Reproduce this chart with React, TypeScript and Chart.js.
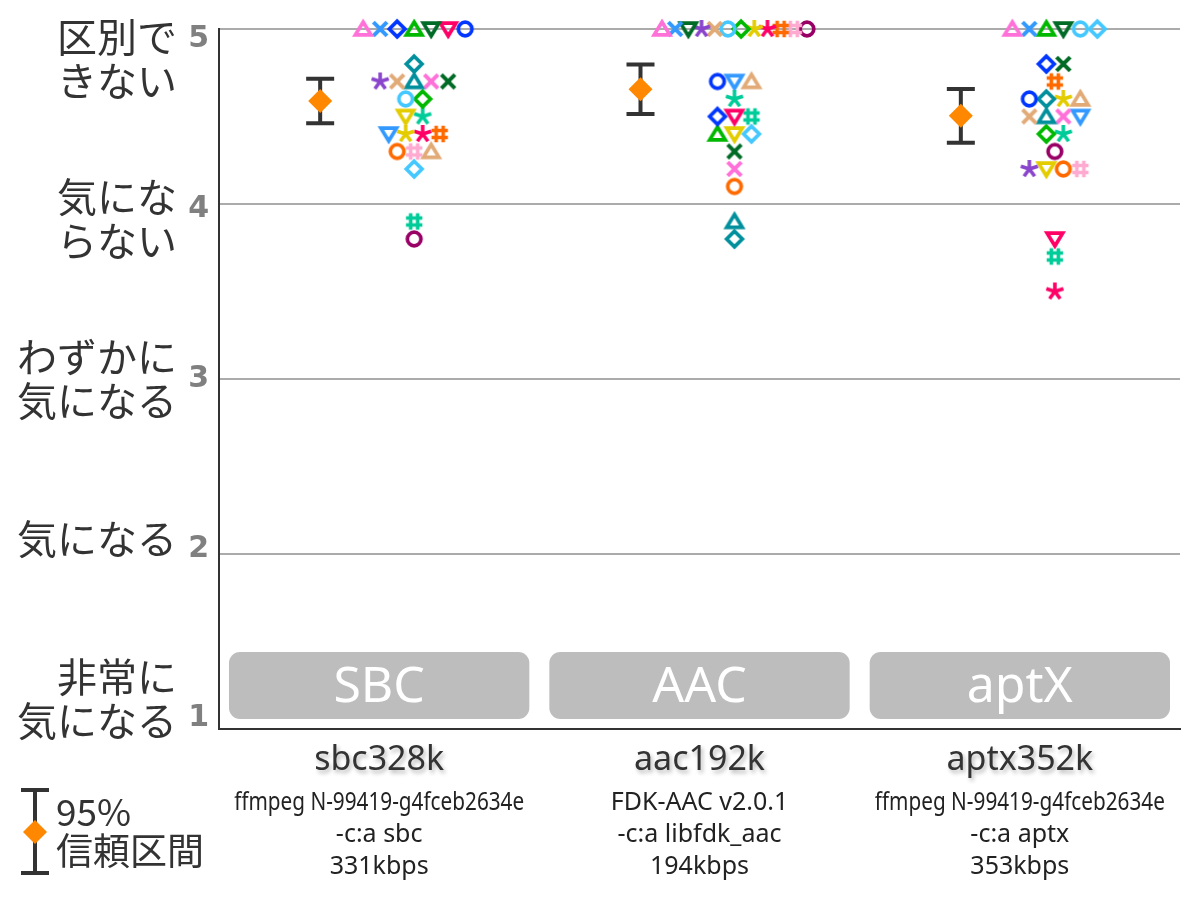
import React, { useEffect, useRef } from "react";
import { Chart, registerables } from "chart.js";

Chart.register(...registerables);

// ---------------- data ----------------
const codecNames = ["sbc328k", "aac192k", "aptx352k"];
const codecBadges = ["SBC", "AAC", "aptX"];
const codecNotes = [
  ["ffmpeg N-99419-g4fceb2634e", "-c:a sbc", "331kbps"],
  ["FDK-AAC v2.0.1", "-c:a libfdk_aac", "194kbps"],
  ["ffmpeg N-99419-g4fceb2634e", "-c:a aptx", "353kbps"],
];
const scoreTicks = [1, 2, 3, 4, 5];
const scoreTickLabels = [
  ["非常に", "気になる"],
  ["気になる"],
  ["わずかに", "気になる"],
  ["気にな", "らない"],
  ["区別で", "きない"],
];
const legendLabel = ["95%", "信頼区間"];

// one score per listener (27 listeners), same listener order in every array
const sbcScores = [5, 5, 5, 5, 5, 5, 5, 4.8, 4.7, 4.7, 4.7, 4.7, 4.7, 4.6, 4.6, 4.5, 4.5, 4.4, 4.4, 4.4, 4.4, 4.3, 4.3, 4.3, 4.2, 3.9, 3.8];
const aacScores = [5, 5, 4.5, 4.4, 5, 4.5, 4.7, 3.8, 5, 5, 3.9, 4.2, 4.3, 5, 5, 4.4, 4.6, 4.7, 5, 5, 5, 4.1, 5, 4.7, 4.4, 4.5, 5];
const aptxScores = [5, 5, 4.8, 5, 5, 3.8, 4.6, 4.6, 4.2, 4.5, 4.5, 4.5, 4.8, 5, 4.4, 4.2, 4.4, 4.5, 4.6, 3.5, 4.7, 4.2, 4.2, 4.6, 5, 3.7, 4.3];
const codecScores = [sbcScores, aacScores, aptxScores];

// ---------------- styles ----------------
const C = {
  pink: "#ff70d8",
  dodger: "#3399ff",
  blue: "#0036ff",
  green: "#00b800",
  dkgreen: "#006b26",
  crimson: "#ff0066",
  lightblue: "#45c8ff",
  teal: "#008f9c",
  tan: "#e2aa76",
  purple: "#8a45cc",
  yellow: "#e3cc00",
  tealgreen: "#00cc99",
  orange: "#ff6a00",
  lightpink: "#ffaad0",
  maroon: "#990066",
};
const listenerMarks: [string, string][] = [
  ["tri", C.pink],
  ["x", C.dodger],
  ["diamond", C.blue],
  ["tri", C.green],
  ["tridown", C.dkgreen],
  ["tridown", C.crimson],
  ["circle", C.blue],
  ["diamond", C.teal],
  ["star", C.purple],
  ["x", C.tan],
  ["tri", C.teal],
  ["x", C.pink],
  ["x", C.dkgreen],
  ["circle", C.lightblue],
  ["diamond", C.green],
  ["tridown", C.yellow],
  ["star", C.tealgreen],
  ["tridown", C.dodger],
  ["star", C.yellow],
  ["star", C.crimson],
  ["hash", C.orange],
  ["circle", C.orange],
  ["hash", C.lightpink],
  ["tri", C.tan],
  ["diamond", C.lightblue],
  ["hash", C.tealgreen],
  ["circle", C.maroon],
];

const PX_PER_UNIT = 961 / 3;
const SWARM_SHIFT = 35; // px right of category centre
const CI_SHIFT = -59; // px left of category centre
const TEXT = "#333333";
const ORANGE = "#ff8800";

function makeMarker(shape: string, color: string): HTMLCanvasElement {
  const c = document.createElement("canvas");
  c.width = 28;
  c.height = 28;
  const g = c.getContext("2d")!;
  g.translate(14, 14);
  g.strokeStyle = color;
  g.lineWidth = 3.7;
  g.lineJoin = "miter";
  g.beginPath();
  if (shape === "circle") {
    g.arc(0, 0, 6.8, 0, Math.PI * 2);
  } else if (shape === "tri") {
    g.moveTo(0, -7);
    g.lineTo(7.8, 5.8);
    g.lineTo(-7.8, 5.8);
    g.closePath();
  } else if (shape === "tridown") {
    g.moveTo(0, 7);
    g.lineTo(7.8, -5.8);
    g.lineTo(-7.8, -5.8);
    g.closePath();
  } else if (shape === "diamond") {
    g.moveTo(0, -7.8);
    g.lineTo(7.8, 0);
    g.lineTo(0, 7.8);
    g.lineTo(-7.8, 0);
    g.closePath();
  } else if (shape === "x") {
    g.lineWidth = 4;
    g.moveTo(-6.8, -6.8);
    g.lineTo(6.8, 6.8);
    g.moveTo(-6.8, 6.8);
    g.lineTo(6.8, -6.8);
  } else if (shape === "star") {
    g.lineWidth = 3.6;
    for (let k = 0; k < 5; k++) {
      const a = -Math.PI / 2 + (k * 2 * Math.PI) / 5;
      g.moveTo(0, 0);
      g.lineTo(Math.cos(a) * 9, Math.sin(a) * 9);
    }
  } else if (shape === "hash") {
    g.lineWidth = 3.6;
    g.moveTo(-3.5, -8.2);
    g.lineTo(-3.5, 8.2);
    g.moveTo(3.5, -8.2);
    g.lineTo(3.5, 8.2);
    g.moveTo(-8.2, -3.5);
    g.lineTo(8.2, -3.5);
    g.moveTo(-8.2, 3.5);
    g.lineTo(8.2, 3.5);
  }
  g.stroke();
  return c;
}

// beeswarm-style layout: points sharing a value are spread along a row
function swarmOffsets(scores: number[]): number[] {
  const groups = new Map<number, number[]>();
  scores.forEach((s, i) => {
    const k = Math.round(s * 10);
    if (!groups.has(k)) groups.set(k, []);
    groups.get(k)!.push(i);
  });
  const out = new Array(scores.length).fill(0);
  groups.forEach((idx) => {
    const n = idx.length;
    const step = n > 1 ? Math.min(17, 145 / (n - 1)) : 0;
    idx.forEach((li, j) => {
      out[li] = (SWARM_SHIFT + (j - (n - 1) / 2) * step) / PX_PER_UNIT;
    });
  });
  return out;
}

function meanCI(v: number[]): [number, number] {
  const n = v.length;
  const m = v.reduce((a, b) => a + b, 0) / n;
  const sd = Math.sqrt(v.reduce((a, b) => a + (b - m) * (b - m), 0) / (n - 1));
  return [m, (1.96 * sd) / Math.sqrt(n)];
}

function drawErrorBar(ctx: CanvasRenderingContext2D, x: number, y1: number, y2: number) {
  ctx.save();
  ctx.strokeStyle = TEXT;
  ctx.lineWidth = 4;
  ctx.beginPath();
  ctx.moveTo(x, y1);
  ctx.lineTo(x, y2);
  ctx.moveTo(x - 14, y1);
  ctx.lineTo(x + 14, y1);
  ctx.moveTo(x - 14, y2);
  ctx.lineTo(x + 14, y2);
  ctx.stroke();
  ctx.restore();
}

function drawDiamond(ctx: CanvasRenderingContext2D, x: number, y: number, r: number) {
  ctx.save();
  ctx.fillStyle = ORANGE;
  ctx.beginPath();
  ctx.moveTo(x, y - r);
  ctx.lineTo(x + r, y);
  ctx.lineTo(x, y + r);
  ctx.lineTo(x - r, y);
  ctx.closePath();
  ctx.fill();
  ctx.restore();
}

export default function App() {
  const ref = useRef<HTMLCanvasElement | null>(null);

  useEffect(() => {
    if (!ref.current) return;
    const offsets = codecScores.map(swarmOffsets);
    const stats = codecScores.map(meanCI);

    const listenerDatasets = listenerMarks.map(([shape, color], li) => ({
      type: "scatter" as const,
      label: `listener${li + 1}`,
      data: codecScores.map((sc, ci) => ({ x: ci + 0.5 + offsets[ci][li], y: sc[li] })),
      pointStyle: makeMarker(shape, color),
      pointRadius: 9,
      borderWidth: 0,
      clip: false as any,
    }));
    const meanDataset = {
      type: "scatter" as const,
      label: "mean",
      data: stats.map((s, ci) => ({ x: ci + 0.5 + CI_SHIFT / PX_PER_UNIT, y: s[0] })),
      pointStyle: "rectRot" as const,
      pointRadius: 12,
      backgroundColor: ORANGE,
      borderWidth: 0,
      clip: false as any,
    };

    const decor = {
      id: "decor",
      beforeDatasetsDraw(chart: any) {
        const { ctx, chartArea, scales } = chart;
        const x = scales.x;
        const y = scales.y;
        const band = x.getPixelForValue(1) - x.getPixelForValue(0);
        // codec badges
        codecBadges.forEach((b, i) => {
          const cx = x.getPixelForValue(i + 0.5);
          const w = band - 20;
          const bottom = chartArea.bottom - 10;
          const top = bottom - 67;
          const left = cx - w / 2;
          const r = 11;
          ctx.save();
          ctx.fillStyle = "#bdbdbd";
          ctx.beginPath();
          ctx.moveTo(left + r, top);
          ctx.lineTo(left + w - r, top);
          ctx.arcTo(left + w, top, left + w, top + r, r);
          ctx.lineTo(left + w, bottom - r);
          ctx.arcTo(left + w, bottom, left + w - r, bottom, r);
          ctx.lineTo(left + r, bottom);
          ctx.arcTo(left, bottom, left, bottom - r, r);
          ctx.lineTo(left, top + r);
          ctx.arcTo(left, top, left + r, top, r);
          ctx.closePath();
          ctx.fill();
          ctx.fillStyle = "#ffffff";
          ctx.font = '50px "Noto Sans"';
          ctx.textAlign = "center";
          ctx.textBaseline = "middle";
          ctx.fillText(b, cx, (top + bottom) / 2 + 2);
          ctx.restore();
        });
        // confidence intervals
        stats.forEach((s, ci) => {
          const px = x.getPixelForValue(ci + 0.5 + CI_SHIFT / PX_PER_UNIT);
          drawErrorBar(ctx, px, y.getPixelForValue(s[0] + s[1]), y.getPixelForValue(s[0] - s[1]));
        });
      },
      afterDraw(chart: any) {
        const { ctx, scales } = chart;
        const x = scales.x;
        const y = scales.y;
        ctx.save();
        const mid = y.getPixelForValue(3);
        // y-axis numeric tick labels (from the scale's ticks)
        ctx.fillStyle = "#808080";
        ctx.font = 'bold 30px "DejaVu Sans"';
        ctx.textAlign = "right";
        ctx.textBaseline = "middle";
        y.ticks.forEach((t: any) => {
          const cy = mid + (y.getPixelForValue(t.value) - mid) * 0.97;
          ctx.fillText(String(t.value), 209, cy);
        });
        // y-axis verbal labels
        ctx.fillStyle = TEXT;
        ctx.font = '40px "Noto Sans CJK JP"';
        scoreTicks.forEach((v, i) => {
          const lines = scoreTickLabels[i];
          const cy = mid + (y.getPixelForValue(v) - mid) * 0.914;
          lines.forEach((ln, j) => {
            ctx.fillText(ln, 177, cy + (j - (lines.length - 1) / 2) * 44);
          });
        });
        // x-axis codec labels
        ctx.textAlign = "center";
        codecNames.forEach((name, i) => {
          const cx = x.getPixelForValue(i + 0.5);
          ctx.save();
          ctx.shadowColor = "rgba(0,0,0,0.28)";
          ctx.shadowBlur = 4;
          ctx.shadowOffsetX = 2;
          ctx.shadowOffsetY = 3;
          ctx.fillStyle = TEXT;
          ctx.font = '34px "Noto Sans"';
          ctx.fillText(name, cx, 760);
          ctx.restore();
          ctx.fillStyle = "#222222";
          ctx.font = '25px "Noto Sans"';
          codecNotes[i].forEach((ln, j) => {
            ctx.fillText(ln, cx, 803 + j * 32, 290);
          });
        });
        // legend
        drawErrorBar(ctx, 35, 790, 873);
        drawDiamond(ctx, 35, 832, 12);
        ctx.fillStyle = TEXT;
        ctx.textAlign = "left";
        ctx.font = '37px "Noto Sans CJK JP"';
        ctx.fillText(legendLabel[0], 56, 812);
        ctx.fillText(legendLabel[1], 56, 851);
        ctx.restore();
      },
    };

    const chart = new Chart(ref.current, {
      type: "scatter",
      data: { datasets: [meanDataset as any, ...(listenerDatasets as any[])] },
      options: {
        animation: false,
        responsive: false,
        layout: { padding: { top: 29, right: 20, left: 0, bottom: 0 } },
        plugins: { legend: { display: false }, tooltip: { enabled: false } },
        scales: {
          x: {
            type: "linear",
            min: 0,
            max: 3,
            ticks: { display: false },
            grid: { display: false, drawTicks: false },
            border: { display: true, color: TEXT, width: 2 },
            afterFit: (s: any) => {
              s.height = 171;
            },
          },
          y: {
            type: "linear",
            min: 1,
            max: 5,
            ticks: { stepSize: 1, display: false },
            grid: {
              drawTicks: false,
              lineWidth: 2,
              color: (c: any) => (c.tick && c.tick.value === 1 ? "rgba(0,0,0,0)" : "#ababab"),
            },
            border: { display: true, color: TEXT, width: 2 },
            afterFit: (s: any) => {
              s.width = 219;
            },
          },
        },
      },
      plugins: [decor],
    });
    return () => chart.destroy();
  }, []);

  return (
    <div style={{ position: "absolute", left: 0, top: 0, width: 1200, height: 900, background: "#ffffff" }}>
      <canvas ref={ref} width={1200} height={900} style={{ display: "block", width: 1200, height: 900 }} />
    </div>
  );
}
